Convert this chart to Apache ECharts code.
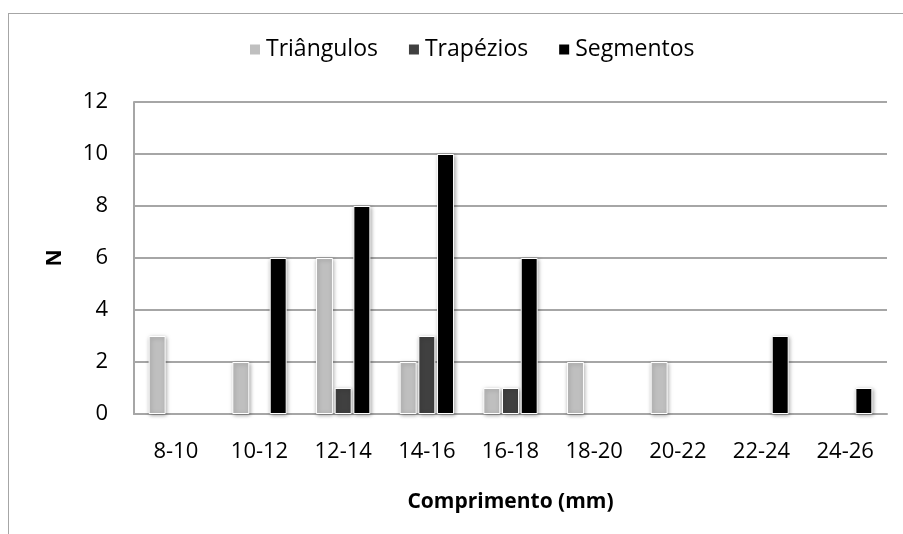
<!DOCTYPE html>
<html>
<head>
<meta charset="utf-8">
<script src="https://cdn.jsdelivr.net/npm/echarts@6/dist/echarts.min.js"></script>
<style>
  html, body { margin: 0; padding: 0; background: #fff; }
  #frame { position: absolute; left: 8px; top: 13px; width: 940px; height: 560px; border: 1px solid #a6a6a6; }
  #chart { position: absolute; left: 0; top: 0; width: 903px; height: 534px; }
</style>
</head>
<body>
<div id="frame"></div>
<div id="chart"></div>
<script>
// faixas de comprimento
var categories = ["8-10", "10-12", "12-14", "14-16", "16-18", "18-20", "20-22", "22-24", "24-26"];
var triangulos = [3, 2, 6, 2, 1, 2, 2, 0, 0];
var trapezios = [0, 0, 1, 3, 1, 0, 0, 0, 0];
var segmentos = [0, 6, 8, 10, 6, 0, 0, 3, 1];
var yTicks = [0, 2, 4, 6, 8, 10, 12];

var fontName = "'Open Sans', sans-serif";

function barSerie(name, color, data) {
  return {
    name: name,
    type: "bar",
    barWidth: 17,
    barGap: "10%",
    // zero não desenha barra
    data: data.map(function (v) { return v === 0 ? "-" : v; }),
    itemStyle: {
      color: color,
      borderColor: "#fff",
      borderWidth: 1,
      shadowColor: "rgba(0,0,0,0.35)",
      shadowBlur: 4,
      shadowOffsetX: 1,
      shadowOffsetY: 1
    }
  };
}

var chart = echarts.init(document.getElementById("chart"));
chart.setOption({
  animation: false,
  textStyle: { fontFamily: fontName },
  legend: {
    left: 243,
    top: 33,
    itemWidth: 12,
    itemHeight: 12,
    itemGap: 29,
    icon: "rect",
    textStyle: { fontSize: 23, color: "#000", fontFamily: fontName },
    data: ["Triângulos", "Trapézios", "Segmentos"]
  },
  grid: { left: 134, right: 16, top: 102, bottom: 120 },
  xAxis: {
    type: "category",
    data: categories,
    name: "Comprimento (mm)",
    nameLocation: "middle",
    nameGap: 78,
    nameTextStyle: { fontSize: 21, fontWeight: "bold", color: "#000" },
    axisLine: { lineStyle: { color: "#a6a6a6", width: 2 } },
    axisTick: { show: false },
    axisLabel: { fontSize: 22, color: "#000", margin: 27 }
  },
  yAxis: {
    type: "value",
    min: yTicks[0],
    max: yTicks[yTicks.length - 1],
    interval: 2,
    name: "N",
    nameLocation: "middle",
    nameGap: 68,
    nameTextStyle: { fontSize: 21, fontWeight: "bold", color: "#000" },
    axisLine: { show: true, lineStyle: { color: "#a6a6a6", width: 2 } },
    axisTick: { show: false },
    axisLabel: { fontSize: 22, color: "#000", margin: 26 },
    splitLine: { lineStyle: { color: "#a6a6a6", width: 2 } }
  },
  series: [
    barSerie("Triângulos", "#bfbfbf", triangulos),
    barSerie("Trapézios", "#404040", trapezios),
    barSerie("Segmentos", "#000000", segmentos)
  ]
});
</script>
</body>
</html>
